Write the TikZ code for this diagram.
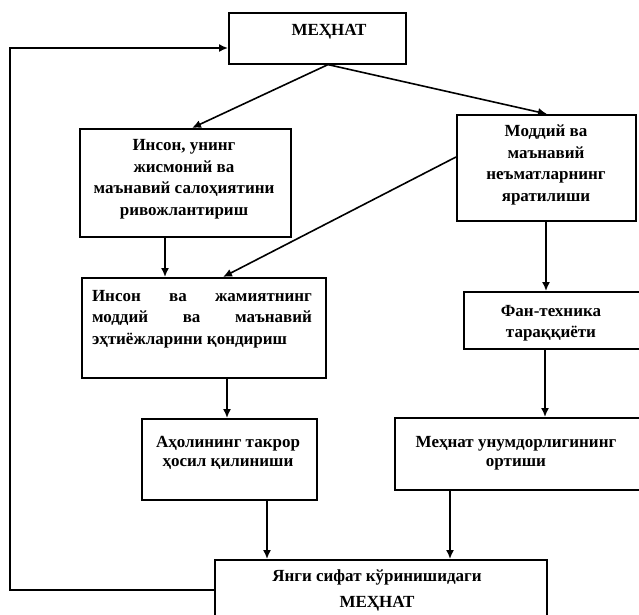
\documentclass[tikz,border=0pt]{standalone}
\usepackage{fontspec}
\setmainfont{Liberation Serif}
\usetikzlibrary{arrows.meta}
\begin{document}
\begin{tikzpicture}[x=1pt,y=-1pt,
  box/.style={draw, line width=1.6pt, inner sep=0pt, anchor=north west},
  lbl/.style={font=\bfseries\fontsize{17}{21.5}\selectfont, align=center, inner sep=0pt},
  link/.style={line width=1.6pt, -{Latex[length=9pt,width=8pt]}}
]
\useasboundingbox (0,0) rectangle (639,614);

% boxes
\node[box, minimum width=177pt, minimum height=51pt]  (top)  at (228,12)  {};
\node[box, minimum width=211pt, minimum height=108pt] (lbox) at (79,128)  {};
\node[box, minimum width=179pt, minimum height=106pt] (rbox) at (456,114) {};
\node[box, minimum width=244pt, minimum height=100pt] (mid)  at (81,277)  {};
\node[box, minimum width=185pt, minimum height=57pt]  (fan)  at (463,291) {};
\node[box, minimum width=175pt, minimum height=81pt]  (aho)  at (141,418) {};
\node[box, minimum width=254pt, minimum height=72pt]  (unu)  at (394,417) {};
\node[box, minimum width=332pt, minimum height=65pt]  (bot)  at (214,559) {};

% texts
\node[lbl] (tTop) at (329,32) {МЕҲНАТ};
\node[lbl] (tL) at (184,179) {Инсон, унинг\\жисмоний ва\\маънавий салоҳиятини\\ривожлантириш};
\node[lbl] (tR) at (546,165) {Моддий ва\\маънавий\\неъматларнинг\\яратилиши};
\node[lbl, align=left] (tM) at (202,319) {\hbox to 220pt{Инсон\hfill ва\hfill жамиятнинг}\\\hbox to 220pt{моддий\hfill ва\hfill маънавий}\\эҳтиёжларини қондириш};
\node[lbl] (tF) at (551,323) {Фан-техника\\тараққиёти};
\node[lbl, font=\bfseries\fontsize{17}{19.5}\selectfont] (tA) at (228,453) {Аҳолининг такрор\\ҳосил қилиниши};
\node[lbl, font=\bfseries\fontsize{17}{19.5}\selectfont] (tU) at (516,453) {Меҳнат унумдорлигининг\\ортиши};
\node[lbl, font=\bfseries\fontsize{17}{26}\selectfont] (tB) at (377,590) {Янги сифат кўринишидаги\\МЕҲНАТ};

% connectors
\draw[link] ([xshift=100pt]top.south west) -- ([xshift=113pt]lbox.north west);
\draw[link] ([xshift=100pt]top.south west) -- ([xshift=91pt]rbox.north west);
\draw[link] ([xshift=86pt]lbox.south west) -- ([xshift=84pt]mid.north west);
\draw[link] ([yshift=-43pt]rbox.north west) -- ([xshift=142pt]mid.north west);
\draw[link] ([xshift=90pt]rbox.south west) -- ([xshift=83pt]fan.north west);
\draw[link] ([xshift=146pt]mid.south west) -- ([xshift=86pt]aho.north west);
\draw[link] ([xshift=82pt]fan.south west) -- ([xshift=151pt]unu.north west);
\draw[link] ([xshift=126pt]aho.south west) -- ([xshift=53pt]bot.north west);
\draw[link] ([xshift=56pt]unu.south west) -- ([xshift=236pt]bot.north west);

% feedback loop
\coordinate (loopL) at (10,590);
\coordinate (loopT) at (10,48);
\draw[link] ([yshift=-31pt]bot.north west) -- (loopL) -- (loopT) -- ([yshift=-36pt]top.north west);
\end{tikzpicture}
\end{document}
